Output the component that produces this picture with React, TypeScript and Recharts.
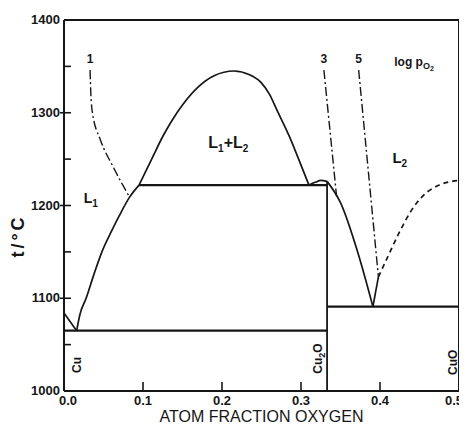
import { ComposedChart, Line, ReferenceDot, XAxis, YAxis } from "recharts";

const INK = "#161616";
const FONT = '"Liberation Sans", Arial, sans-serif';

// composition (atom fraction O) and temperature (°C) along each boundary
const cuMelt = [
  { x: 0, t: 1084 },
  { x: 0.016, t: 1065 },
];
const liquidusL1 = [
  { x: 0.016, t: 1065 },
  { x: 0.02, t: 1082 },
  { x: 0.028, t: 1100 },
  { x: 0.038, t: 1126 },
  { x: 0.048, t: 1150 },
  { x: 0.06, t: 1172 },
  { x: 0.07, t: 1189 },
  { x: 0.083, t: 1209 },
  { x: 0.095, t: 1222 },
];
const gapDome = [
  { x: 0.095, t: 1222 },
  { x: 0.111, t: 1250 },
  { x: 0.126, t: 1276 },
  { x: 0.143, t: 1300 },
  { x: 0.17, t: 1328 },
  { x: 0.19, t: 1340 },
  { x: 0.215, t: 1345 },
  { x: 0.235, t: 1341 },
  { x: 0.249, t: 1333 },
  { x: 0.26, t: 1320 },
  { x: 0.27, t: 1302 },
  { x: 0.285, t: 1275 },
  { x: 0.297, t: 1250 },
  { x: 0.31, t: 1222 },
];
const cu2oBump = [
  { x: 0.31, t: 1222 },
  { x: 0.318, t: 1225 },
  { x: 0.325, t: 1227 },
  { x: 0.333, t: 1226 },
];
const liquidusCu2O = [
  { x: 0.333, t: 1226 },
  { x: 0.35, t: 1203 },
  { x: 0.372, t: 1149 },
  { x: 0.391, t: 1091 },
];
const liquidusCuO = [
  { x: 0.391, t: 1091 },
  { x: 0.398, t: 1123 },
];
const liquidusCuOEst = [
  { x: 0.398, t: 1123 },
  { x: 0.41, t: 1145 },
  { x: 0.425, t: 1172 },
  { x: 0.44, t: 1195 },
  { x: 0.455, t: 1211 },
  { x: 0.475, t: 1222 },
  { x: 0.5, t: 1227 },
];
const monotectic = [
  { x: 0.095, t: 1222 },
  { x: 0.333, t: 1222 },
];
const eutecticCu = [
  { x: 0, t: 1065 },
  { x: 0.333, t: 1065 },
];
const eutecticCuO = [
  { x: 0.333, t: 1091 },
  { x: 0.5, t: 1091 },
];
const cu2oLine = [
  { x: 0.333, t: 1000 },
  { x: 0.333, t: 1226 },
];

// oxygen isobars, labelled by log pO2
const isobar1 = [
  { x: 0.033, t: 1346 },
  { x: 0.034, t: 1320 },
  { x: 0.036, t: 1300 },
  { x: 0.046, t: 1271 },
  { x: 0.062, t: 1242 },
  { x: 0.083, t: 1209 },
];
const isobar3 = [
  { x: 0.329, t: 1346 },
  { x: 0.345, t: 1210 },
];
const isobar5 = [
  { x: 0.373, t: 1346 },
  { x: 0.398, t: 1123 },
];

const xTicks = [0, 0.1, 0.2, 0.3, 0.4, 0.5];
const xInnerTicks = [0.1, 0.2, 0.3, 0.4];
const yTicks = [1000, 1050, 1100, 1150, 1200, 1250, 1300, 1350, 1400];
const yInnerTicks = [1050, 1100, 1150, 1200, 1250, 1300, 1350];

const textStyle = { fontFamily: FONT, fontWeight: "bold" as const, fill: INK };

function BottomTick({ x, y, payload }: any) {
  const v = payload.value;
  // end labels sit a little inside the frame
  const shift = v === 0 ? 4 : v === 0.5 ? -5 : 0;
  return (
    <g>
      {v > 0 && v < 0.5 && <line x1={x} x2={x} y1={y} y2={y - 9} stroke={INK} strokeWidth={1.6} />}
      <text x={x + shift} y={y + 14} textAnchor="middle" fontSize={13} {...textStyle}>
        {v.toFixed(1)}
      </text>
    </g>
  );
}

function LeftTick({ x, y, payload }: any) {
  const v = payload.value;
  const major = v % 100 === 0;
  return (
    <g>
      {v > 1000 && v < 1400 && (
        <line x1={major ? x - 4 : x} x2={x + 7} y1={y} y2={y} stroke={INK} strokeWidth={1.6} />
      )}
      {major && (
        <text x={x - 4} y={y + 4} textAnchor="end" fontSize={13} {...textStyle}>
          {v}
        </text>
      )}
    </g>
  );
}

function TopTick({ x, y }: any) {
  return <line x1={x} x2={x} y1={y} y2={y + 8} stroke={INK} strokeWidth={1.6} />;
}

function RightTick({ x, y }: any) {
  return <line x1={x} x2={x - 7} y1={y} y2={y} stroke={INK} strokeWidth={1.6} />;
}

function Note({ viewBox, children, size = 14, turn = 0, anchor = "middle" }: any) {
  const x = viewBox?.x ?? 0;
  const y = viewBox?.y ?? 0;
  return (
    <text
      x={x}
      y={y}
      dy="0.35em"
      textAnchor={anchor}
      fontSize={size}
      transform={turn ? `rotate(${turn} ${x} ${y})` : undefined}
      {...textStyle}
    >
      {children}
    </text>
  );
}

function YTitle() {
  return (
    <text
      x={18}
      y={236}
      dy="0.35em"
      textAnchor="middle"
      fontSize={18}
      letterSpacing={3}
      transform="rotate(-90 18 236)"
      {...textStyle}
    >
      t/°C
    </text>
  );
}

function curve(data: { x: number; t: number }[], opts: any = {}) {
  return (
    <Line
      data={data}
      dataKey="t"
      type={opts.type ?? "monotone"}
      stroke={INK}
      strokeWidth={opts.width ?? 1.7}
      strokeDasharray={opts.dash}
      dot={false}
      activeDot={false}
      isAnimationActive={false}
      legendType="none"
    />
  );
}

function note(x: number, t: number, content: any) {
  return <ReferenceDot x={x} y={t} r={0} fill="none" stroke="none" label={content} />;
}

const sub = (s: string) => (
  <tspan fontSize={10} dy={4}>
    {s}
  </tspan>
);

export default function App() {
  return (
    <div style={{ margin: -8, width: 467, height: 430, background: "#fff" }}>
      <ComposedChart width={467} height={430} margin={{ top: 0, right: 0, bottom: 0, left: 0 }}>
        <XAxis
          dataKey="x"
          type="number"
          domain={[0, 0.5]}
          ticks={xTicks}
          interval={0}
          height={39}
          tickSize={0}
          tickMargin={0}
          tickLine={false}
          axisLine={{ stroke: INK, strokeWidth: 2 }}
          tick={<BottomTick />}
          label={{
            value: "ATOM FRACTION OXYGEN",
            position: "insideBottom",
            offset: 8,
            fontSize: 16,
            fontFamily: FONT,
            fill: INK,
          }}
        />
        <XAxis
          xAxisId="top"
          orientation="top"
          dataKey="x"
          type="number"
          domain={[0, 0.5]}
          ticks={xInnerTicks}
          interval={0}
          height={20}
          tickSize={0}
          tickMargin={0}
          tickLine={false}
          axisLine={{ stroke: INK, strokeWidth: 2 }}
          tick={<TopTick />}
        />
        <YAxis
          type="number"
          domain={[1000, 1400]}
          ticks={yTicks}
          interval={0}
          width={64}
          tickSize={0}
          tickMargin={0}
          tickLine={false}
          axisLine={{ stroke: INK, strokeWidth: 2 }}
          tick={<LeftTick />}
          label={<YTitle />}
        />
        <YAxis
          yAxisId="right"
          orientation="right"
          type="number"
          domain={[1000, 1400]}
          ticks={yInnerTicks}
          interval={0}
          width={8}
          tickSize={0}
          tickMargin={0}
          tickLine={false}
          axisLine={{ stroke: INK, strokeWidth: 2 }}
          tick={<RightTick />}
        />

        {curve(cuMelt, { type: "linear" })}
        {curve(liquidusL1)}
        {curve(gapDome)}
        {curve(cu2oBump)}
        {curve(liquidusCu2O)}
        {curve(liquidusCuO, { type: "linear" })}
        {curve(liquidusCuOEst, { dash: "5 4" })}
        {curve(monotectic, { type: "linear", width: 2.2 })}
        {curve(eutecticCu, { type: "linear", width: 2.2 })}
        {curve(eutecticCuO, { type: "linear", width: 2.2 })}
        {curve(cu2oLine, { type: "linear", width: 1.8 })}
        {curve(isobar1, { dash: "9 3 2 3", width: 1.4 })}
        {curve(isobar3, { type: "linear", dash: "9 3 2 3", width: 1.4 })}
        {curve(isobar5, { type: "linear", dash: "9 3 2 3", width: 1.4 })}

        {note(0.208, 1268, <Note size={16}>L{sub("1")}<tspan dy={-4}>+L</tspan>{sub("2")}</Note>)}
        {note(0.034, 1208, <Note size={14}>L{sub("1")}</Note>)}
        {note(0.425, 1251, <Note size={15}>L{sub("2")}</Note>)}
        {note(0.033, 1358, <Note size={12}>1</Note>)}
        {note(0.329, 1358, <Note size={12}>3</Note>)}
        {note(0.373, 1358, <Note size={12}>5</Note>)}
        {note(0.418, 1355, <Note size={12} anchor="start">log p<tspan fontSize={9} dy={3}>O</tspan><tspan fontSize={7} dy={2}>2</tspan></Note>)}
        {note(0.0165, 1028, <Note size={12} turn={-90}>Cu</Note>)}
        {note(0.321, 1035, <Note size={12} turn={-90}>Cu<tspan fontSize={9} dy={3}>2</tspan><tspan dy={-3}>O</tspan></Note>)}
        {note(0.492, 1031, <Note size={12} turn={-90}>CuO</Note>)}
      </ComposedChart>
    </div>
  );
}
